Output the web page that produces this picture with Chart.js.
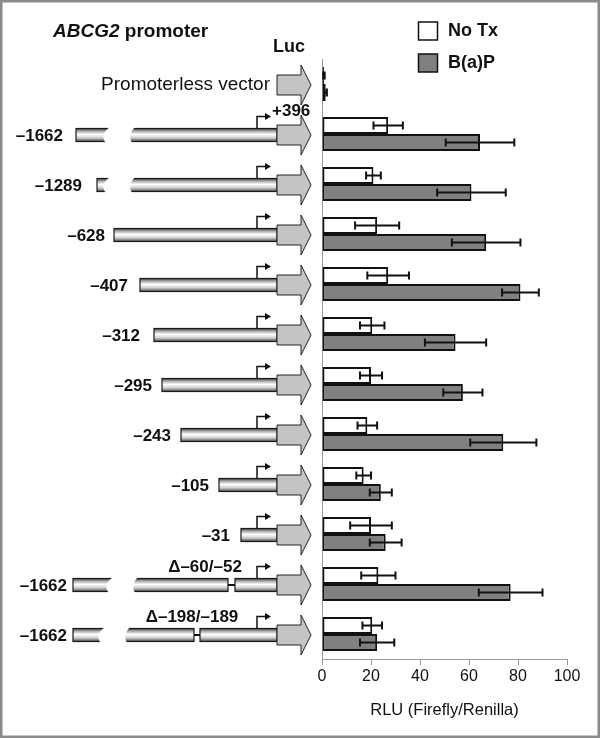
<!DOCTYPE html>
<html>
<head>
<meta charset="utf-8">
<script src="https://cdn.jsdelivr.net/npm/chart.js@4.4.0/dist/chart.umd.min.js"></script>
<style>
  body { margin: 0; background: #fff; }
  #wrap { width: 600px; height: 738px; }
</style>
</head>
<body>
<div id="wrap"><canvas id="myChart" width="600" height="738"></canvas></div>
<script>
// constructs, top to bottom
const constructs = ['Promoterless vector', '–1662', '–1289', '–628', '–407', '–312', '–295', '–243', '–105', '–31', '–1662 Δ–60/–52', '–1662 Δ–198/–189']
const startLabels = ['', '–1662', '–1289', '–628', '–407', '–312', '–295', '–243', '–105', '–31', '–1662', '–1662']
const deletions = [null, null, null, null, null, null, null, null, null, null, 'Δ–60/–52', 'Δ–198/–189']

// RLU values (Firefly/Renilla) and error bars
const noTx = [0.8, 27, 21, 22.5, 27, 20.5, 20, 18.5, 17, 20, 23, 20.5]
const noTxErr = [0.3, 6, 3, 9, 8.5, 5, 4.5, 4, 3, 8.5, 7, 4]
const bap = [1.5, 64.5, 61, 67, 81, 54.5, 57.5, 74, 24, 26, 77, 22.5]
const bapErr = [0.5, 14, 14, 14, 7.5, 12.5, 8, 13.5, 4.5, 6.5, 13, 7]
const xTicks = [0, 20, 40, 60, 80, 100]

// where each construct drawing starts on the left (pixels)
const drawing = [
  null,
  { x0: 76, lx: 63, brk: 103 },
  { x0: 97, lx: 82, brk: 103 },
  { x0: 114, lx: 105 },
  { x0: 140, lx: 128 },
  { x0: 154, lx: 140 },
  { x0: 162, lx: 152 },
  { x0: 181, lx: 171 },
  { x0: 219, lx: 209 },
  { x0: 241, lx: 230 },
  { x0: 73, lx: 67, brk: 106, gap: 228, gw: 7, dx: 205 },
  { x0: 73, lx: 67, brk: 98, gap: 194, gw: 6, dx: 192 }
]

const FONT = "'Liberation Sans', Arial, sans-serif"
const LUC_X = 277
const TSS_X = 257

function cylinder (ctx, x0, x1, cy) {
  const h = 13
  const top = cy - h / 2
  const g = ctx.createLinearGradient(0, top, 0, top + h)
  g.addColorStop(0, '#3c3c3c')
  g.addColorStop(0.2, '#a8a8a8')
  g.addColorStop(0.45, '#ffffff')
  g.addColorStop(0.72, '#cfcfcf')
  g.addColorStop(1, '#4a4a4a')
  ctx.fillStyle = g
  ctx.fillRect(x0, top, x1 - x0, h)
  ctx.strokeStyle = '#1a1a1a'
  ctx.lineWidth = 1.2
  ctx.strokeRect(x0, top, x1 - x0, h)
}

function blob (ctx, x, cy) {
  const top = cy - 8
  const bot = cy + 8
  ctx.fillStyle = '#fff'
  ctx.beginPath()
  ctx.moveTo(x + 7, top)
  ctx.lineTo(x + 32, top)
  ctx.quadraticCurveTo(x + 24, cy, x + 29, bot)
  ctx.lineTo(x + 3, bot)
  ctx.quadraticCurveTo(x - 4, cy, x + 7, top)
  ctx.fill()
}

function lucArrow (ctx, cy) {
  ctx.beginPath()
  ctx.moveTo(LUC_X, cy - 10)
  ctx.lineTo(301, cy - 10)
  ctx.lineTo(301, cy - 20)
  ctx.lineTo(311, cy)
  ctx.lineTo(301, cy + 20)
  ctx.lineTo(301, cy + 10)
  ctx.lineTo(LUC_X, cy + 10)
  ctx.closePath()
  ctx.fillStyle = '#c4c4c4'
  ctx.fill()
  ctx.strokeStyle = '#222'
  ctx.lineWidth = 1
  ctx.stroke()
}

function tss (ctx, cy) {
  const top = cy - 6.5
  ctx.strokeStyle = '#111'
  ctx.lineWidth = 1.5
  ctx.beginPath()
  ctx.moveTo(TSS_X, top)
  ctx.lineTo(TSS_X, top - 12)
  ctx.lineTo(266, top - 12)
  ctx.stroke()
  ctx.fillStyle = '#111'
  ctx.beginPath()
  ctx.moveTo(265, top - 15.5)
  ctx.lineTo(271, top - 12)
  ctx.lineTo(265, top - 8.5)
  ctx.closePath()
  ctx.fill()
}

// promoter constructs, titles, legend and frame
const figurePlugin = {
  id: 'figure',
  afterDraw (chart) {
    const ctx = chart.ctx
    const y = chart.scales.y
    ctx.save()
    ctx.textBaseline = 'middle'
    ctx.fillStyle = '#111'

    // title
    ctx.textAlign = 'left'
    ctx.font = 'italic bold 19px ' + FONT
    ctx.fillText('ABCG2', 53, 32)
    const w = ctx.measureText('ABCG2').width
    ctx.font = 'bold 19px ' + FONT
    ctx.fillText(' promoter', 53 + w, 32)
    ctx.textAlign = 'center'
    ctx.font = 'bold 18px ' + FONT
    ctx.fillText('Luc', 289, 47)

    constructs.forEach((name, i) => {
      const cy = y.getPixelForValue(i) + 1
      const d = drawing[i]
      if (!d) {
        ctx.fillStyle = '#111'
        ctx.textAlign = 'right'
        ctx.font = '19px ' + FONT
        ctx.fillText(name, 270, cy)
        lucArrow(ctx, cy)
        return
      }
      if (d.gap) {
        cylinder(ctx, d.x0, d.gap, cy)
        cylinder(ctx, d.gap + d.gw, LUC_X, cy)
        ctx.strokeStyle = '#111'
        ctx.lineWidth = 2
        ctx.beginPath()
        ctx.moveTo(d.gap, cy)
        ctx.lineTo(d.gap + d.gw, cy)
        ctx.stroke()
      } else {
        cylinder(ctx, d.x0, LUC_X, cy)
      }
      if (d.brk) blob(ctx, d.brk, cy)
      tss(ctx, cy)

      ctx.fillStyle = '#111'
      ctx.textAlign = 'right'
      ctx.font = 'bold 17px ' + FONT
      ctx.fillText(startLabels[i], d.lx, cy + 1)
      if (deletions[i]) {
        ctx.textAlign = 'center'
        ctx.fillText(deletions[i], d.dx, cy - 18)
      }
      if (i === 1) {
        ctx.textAlign = 'left'
        ctx.fillText('+396', 272, cy - 24)
      }
      lucArrow(ctx, cy)
    })

    // legend
    ctx.textAlign = 'left'
    ctx.font = 'bold 18px ' + FONT
    chart.data.datasets.forEach((ds, i) => {
      const top = 22 + i * 32
      ctx.fillStyle = ds.backgroundColor
      ctx.fillRect(418.5, top, 19, 18)
      ctx.strokeStyle = '#111'
      ctx.lineWidth = 1.5
      ctx.strokeRect(418.5, top, 19, 18)
      ctx.fillStyle = '#111'
      ctx.fillText(ds.label, 448, top + 9.5)
    })

    // frame
    ctx.strokeStyle = '#8a8a8a'
    ctx.lineWidth = 2.5
    ctx.strokeRect(1.25, 1.25, 597.5, 735.5)
    ctx.restore()
  }
}

// error bars drawn over each bar
const errorBars = {
  id: 'errorBars',
  afterDatasetsDraw (chart) {
    const ctx = chart.ctx
    const x = chart.scales.x
    ctx.save()
    ctx.strokeStyle = '#111'
    ctx.lineWidth = 2
    chart.data.datasets.forEach((ds, i) => {
      chart.getDatasetMeta(i).data.forEach((bar, j) => {
        const v = ds.data[j]
        const e = ds.errors[j]
        const x1 = x.getPixelForValue(v - e)
        const x2 = x.getPixelForValue(v + e)
        ctx.beginPath()
        ctx.moveTo(x1, bar.y)
        ctx.lineTo(x2, bar.y)
        ctx.moveTo(x1, bar.y - 4)
        ctx.lineTo(x1, bar.y + 4)
        ctx.moveTo(x2, bar.y - 4)
        ctx.lineTo(x2, bar.y + 4)
        ctx.stroke()
      })
    })
    ctx.restore()
  }
}

const ctx = document.getElementById('myChart').getContext('2d')
new Chart(ctx, {
  type: 'bar',
  data: {
    labels: constructs,
    datasets: [
      {
        label: 'No Tx',
        data: noTx,
        errors: noTxErr,
        backgroundColor: '#ffffff',
        borderColor: '#111',
        borderWidth: 2,
        borderSkipped: false
      },
      {
        label: 'B(a)P',
        data: bap,
        errors: bapErr,
        backgroundColor: '#808080',
        borderColor: '#111',
        borderWidth: 2,
        borderSkipped: false
      }
    ]
  },
  options: {
    responsive: false,
    animation: false,
    devicePixelRatio: 1,
    indexAxis: 'y',
    categoryPercentage: 0.68,
    barPercentage: 1,
    layout: { padding: { left: 322, right: 33, top: 59, bottom: 0 } },
    plugins: { legend: { display: false }, tooltip: { enabled: false } },
    scales: {
      x: {
        min: 0,
        max: 100,
        afterBuildTicks: s => { s.ticks = xTicks.map(v => ({ value: v })) },
        afterFit: s => { s.height = 79 },
        grid: { display: true, drawOnChartArea: false, tickLength: 6, color: '#999' },
        border: { display: true, color: '#999', width: 1 },
        ticks: { color: '#111', font: { family: FONT, size: 16 }, padding: 2, maxRotation: 0 },
        title: {
          display: true,
          text: 'RLU (Firefly/Renilla)',
          color: '#111',
          font: { family: FONT, size: 16.5 },
          padding: { top: 0, bottom: 18 }
        }
      },
      y: {
        afterFit: s => { s.width = 0 },
        grid: { display: false },
        border: { display: true, color: '#999', width: 1 },
        ticks: { display: false }
      }
    }
  },
  plugins: [errorBars, figurePlugin]
})
</script>
</body>
</html>
